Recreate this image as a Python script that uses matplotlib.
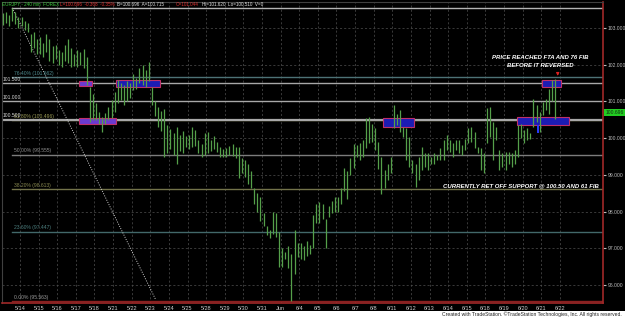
import matplotlib
matplotlib.use('Agg')
import matplotlib.pyplot as plt
from matplotlib.patches import Rectangle

# session labels (one per trading day, 6 x 240 min bars per day)
days = ['5/14', '5/15', '5/16', '5/17', '5/18', '5/21', '5/22', '5/23', '5/24', '5/25',
        '5/28', '5/29', '5/30', '5/31', 'Jun', '6/4', '6/5', '6/6', '6/7', '6/8',
        '6/11', '6/12', '6/13', '6/14', '6/15', '6/18', '6/19', '6/20', '6/21', '6/22']

# 240 min bars, first 6 belong to the session before 5/14
highs = [103.40, 103.45, 103.35, 103.55, 103.45, 103.31,
         103.30, 103.20, 103.15, 102.85, 102.90, 102.70,   # 5/14
         102.75, 102.60, 102.85, 102.70, 102.50, 102.55,   # 5/15
         102.40, 102.35, 102.55, 102.70, 102.45, 102.30,   # 5/16
         102.40, 102.35, 102.42, 102.20, 101.40, 101.20,   # 5/17
         100.95, 100.72, 100.58, 100.68, 100.86, 101.04,   # 5/18
         101.25, 101.58, 101.50, 101.45, 101.55, 101.50,   # 5/21
         101.75, 101.65, 101.90, 102.00, 101.85, 102.08,   # 5/22
         101.40, 101.00, 100.85, 100.75, 100.80, 100.35,   # 5/23
         100.25, 100.15, 100.30, 100.10, 100.20, 100.05,   # 5/24
         100.10, 100.31, 100.22, 99.95, 99.85, 100.15,     # 5/25
         100.17, 99.95, 100.05, 99.90, 99.75, 99.70,       # 5/28
         99.72, 99.80, 99.85, 99.75, 99.77, 99.45,         # 5/29
         99.40, 99.30, 99.10, 98.65, 98.50, 98.40,         # 5/30
         97.95, 97.60, 97.50, 97.98, 97.95, 97.45,         # 5/31
         97.00, 96.90, 97.05, 96.85, 97.50, 97.15,         # Jun
         97.15, 97.05, 97.20, 97.10, 97.90, 98.20,         # 6/4
         98.25, 98.20, 97.80, 98.15, 98.30, 98.40,         # 6/5
         98.40, 98.65, 99.20, 99.10, 99.45, 99.85,         # 6/6
         99.81, 99.86, 99.95, 100.54, 100.58, 100.40,      # 6/7
         100.27, 99.90, 99.49, 99.13, 99.31, 99.49,        # 6/8
         100.90, 100.67, 100.76, 100.31, 100.27, 100.04,   # 6/11
         99.40, 99.31, 99.49, 99.77, 99.59, 99.59,         # 6/12
         99.49, 99.59, 99.54, 99.72, 99.95, 100.09,        # 6/13
         99.95, 99.86, 99.95, 99.95, 99.81, 99.99,         # 6/14
         100.27, 100.31, 100.18, 99.77, 99.72, 99.59,      # 6/15
         100.81, 100.85, 100.45, 100.31, 99.68, 99.59,     # 6/18
         99.63, 99.63, 99.59, 99.68, 100.36, 100.40,       # 6/19
         100.22, 100.27, 100.13, 101.08, 100.90, 100.72,   # 6/20
         100.99, 101.08, 101.35, 101.58, 101.62]           # 6/21

lows = [103.08, 103.15, 103.05, 103.20, 103.10, 103.00,
        103.05, 102.95, 102.90, 102.35, 102.45, 102.30,
        102.30, 102.20, 102.35, 102.10, 102.05, 102.15,
        102.00, 101.95, 102.10, 102.05, 101.95, 101.98,
        101.95, 102.00, 101.90, 101.45, 100.45, 100.50,
        100.50, 100.40, 100.17, 100.40, 100.49, 100.54,
        100.70, 100.95, 101.05, 100.90, 101.00, 101.10,
        101.30, 101.35, 101.50, 101.45, 101.40, 101.55,
        100.90, 100.60, 100.30, 100.20, 99.48, 99.60,
        99.70, 99.55, 99.31, 99.65, 99.60, 99.75,
        99.70, 99.75, 99.80, 99.60, 99.50, 99.55,
        99.60, 99.65, 99.70, 99.62, 99.48, 99.50,
        99.50, 99.55, 99.52, 99.45, 98.92, 99.05,
        98.95, 98.75, 98.65, 98.20, 98.00, 97.75,
        97.60, 97.35, 97.28, 97.40, 97.30, 96.50,
        96.50, 96.70, 96.45, 95.56, 96.30, 96.75,
        96.70, 96.68, 96.80, 96.85, 97.00, 97.70,
        97.70, 97.80, 97.00, 97.85, 97.95, 98.00,
        98.00, 98.20, 98.55, 98.35, 99.00, 99.20,
        99.49, 99.40, 99.50, 99.72, 99.86, 99.90,
        99.68, 99.17, 98.49, 98.63, 98.86, 99.04,
        100.27, 100.36, 100.18, 100.04, 99.40, 99.22,
        99.04, 98.67, 98.86, 99.13, 99.22, 99.13,
        99.31, 99.31, 99.40, 99.40, 99.40, 99.68,
        99.63, 99.49, 99.68, 99.59, 99.54, 99.68,
        99.86, 99.90, 99.72, 99.59, 99.13, 99.04,
        99.86, 100.04, 99.40, 99.95, 99.13, 99.22,
        99.13, 99.31, 99.22, 99.31, 99.50, 100.00,
        99.86, 99.95, 99.99, 100.31, 100.45, 100.18,
        100.63, 100.76, 100.67, 101.00, 100.51]

# fibonacci retracement from the 103.546 high to the 95.563 low
fib_pct = ['100.0%', '76.40%', '61.80%', '50.00%', '38.20%', '23.60%', '0.00%']
fib_val = [103.546, 101.662, 100.496, 99.555, 98.613, 97.447, 95.563]
fib_col = ['#b4b4b4', '#4d7276', '#8a8a55', '#7c7c7c', '#73734a', '#42686a', '#8a2020']
fib_txt = ['#b4b4b4', '#4d8a8e', '#9a9a55', '#8c8c8c', '#8a8a50', '#4d8080', '#9a9a9a']

# horizontal support / resistance lines
levels = [101.5, 101.0, 100.5]
level_labels = ['101.500', '101.000', '100.500']

# zones drawn on the chart: (bar from, bar to, low, high)
zones = [(19.0, 23.2, 101.42, 101.56), (30.9, 45.1, 101.39, 101.58),
         (19.0, 30.9, 100.38, 100.55), (117.0, 127.0, 100.30, 100.55),
         (160.2, 176.9, 100.36, 100.58), (168.2, 174.3, 101.39, 101.58)]
zone_fill = ['#6b3ad0', '#1c1cb4', '#6b3ad0', '#1c1cb4', '#1c1cb4', '#1c1cb4']

# dotted trend line (bar, price)
trend = [(-2.5, 103.55), (43.8, 95.59)]

last_price = 100.696

fig = plt.figure(figsize=(6.25, 3.18), dpi=100, facecolor='black')
fig.patches.append(Rectangle((0, 0), 1, 7 / 318, transform=fig.transFigure,
                             facecolor='white', edgecolor='none'))
ax = fig.add_axes([2 / 625, 15 / 318, 601 / 625, 301 / 318])
ax.set_facecolor('black')
ax.set_xlim(-5.8, 187.9)
ax.set_ylim(95.51, 103.71)

narrow = ['Liberation Sans Narrow', 'Liberation Sans', 'DejaVu Sans']

# grid
ax.set_xticks([6 * i for i in range(len(days))])
ax.set_xticklabels(days)
ax.set_yticks(range(96, 104))
ax.set_yticklabels(['%.3f' % v for v in range(96, 104)])
ax.grid(True, color='#505050', ls=(0, (3, 3)), lw=0.5)
ax.set_axisbelow(True)
ax.yaxis.tick_right()
ax.tick_params(axis='x', colors='#cfcfcf', labelsize=4.0, length=0, pad=2)
ax.tick_params(axis='y', colors='#bdbdbd', labelsize=3.6, length=2, pad=1.5)
for lab in ax.get_xticklabels() + ax.get_yticklabels():
    lab.set_family(narrow)
for s in ['top', 'left']:
    ax.spines[s].set_color('#404040')
for s in ['right', 'bottom']:
    ax.spines[s].set_color('#a02828')
    ax.spines[s].set_linewidth(1.2)

# fib lines
x_end = ax.get_xlim()[1]
for pct, val, col, tc in zip(fib_pct, fib_val, fib_col, fib_txt):
    ax.plot([trend[0][0], x_end], [val, val], color=col, lw=1, zorder=2)
    if pct != '100.0%':
        ax.text(-1.9, val + 0.04, '%s (%.3f)' % (pct, val), color=tc, fontsize=3.6,
                family=narrow, va='bottom', ha='left', zorder=5)

# support / resistance lines
for lv, lab in zip(levels, level_labels):
    lw = 1.6 if lv == 100.5 else 1.0
    ax.axhline(lv, color='#a8a8a8', lw=lw, zorder=2)
    ax.text(-5.6, lv + 0.04, lab, color='#d8d8d8', fontsize=3.6, family=narrow,
            va='bottom', ha='left', zorder=5)

# dotted trend line
ax.plot([trend[0][0], trend[1][0]], [trend[0][1], trend[1][1]], color='#d0d0d0',
        lw=0.7, ls=(0, (1, 1.5)), zorder=3)

# zones
for (b0, b1, lo, hi), fc in zip(zones, zone_fill):
    ax.add_patch(Rectangle((b0, lo), b1 - b0, hi - lo, facecolor=fc, edgecolor='#c0306a',
                           lw=0.8, zorder=3))

# price bars
xs = [i - 5.5 for i in range(len(highs))]
ax.vlines(xs, lows, highs, color='#55a04a', lw=0.9, zorder=4)

# markers
ax.vlines(167, 100.14, 100.35, color='#2a3cff', lw=1.4, zorder=5)
ax.annotate('', xy=(173.3, 101.62), xytext=(173.3, 101.86),
            arrowprops=dict(arrowstyle='-|>', color='#e02020', lw=0.8, mutation_scale=4))

# comments
txt = dict(color='white', fontsize=4.3, fontweight='bold', style='italic', family=narrow,
           ha='center', zorder=6)
ax.text(167.8, 102.12, 'PRICE REACHED FTA AND 76 FIB', va='bottom', **txt)
ax.text(167.8, 101.90, 'BEFORE IT REVERSED', va='bottom', **txt)
ax.text(161.3, 98.70, 'CURRENTLY RET OFF SUPPORT @ 100.50 AND 61 FIB', va='center', **txt)

# last price tag
ax.text(1.004, (last_price - 95.51) / (103.71 - 95.51), '%.3f' % last_price,
        transform=ax.transAxes, fontsize=3.6, family=narrow, color='#103010', va='center',
        ha='left', bbox=dict(boxstyle='square,pad=0.2', fc='#22cc22', ec='none'),
        zorder=7, clip_on=False)

# header
hy = 1 - 5 / 318
hdr = [(2, 'EURJPY - 240 min  FOREX', '#3cc83c'),
       (60, 'L=100.696  -0.368  -0.35%', '#e03030'),
       (117, 'B=100.696  A=100.715', '#e0e0e0'),
       (176, 'O=101.044', '#e03030'),
       (202, 'Hi=101.620  Lo=100.510  V=0', '#e0e0e0')]
for x, s, c in hdr:
    fig.text(x / 625, hy, s, color=c, fontsize=3.3, family=narrow, va='center', ha='left')

fig.text(622 / 625, 3.5 / 318,
         'Created with TradeStation. \u00a9TradeStation Technologies, Inc. All rights reserved.',
         color='#202020', fontsize=3.6, family=narrow, ha='right', va='center')

fig.savefig('out.png', dpi=100, facecolor='black')
